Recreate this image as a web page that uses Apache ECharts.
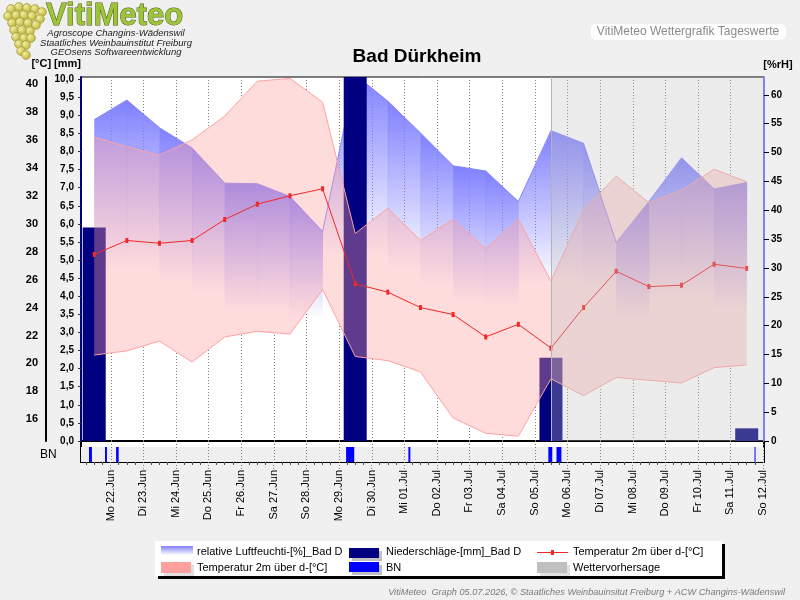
<!DOCTYPE html>
<html>
<head>
<meta charset="utf-8">
<title>Bad Dürkheim</title>
<script src="https://cdn.jsdelivr.net/npm/echarts@6.0.0/dist/echarts.min.js"></script>
<style>
  html, body { margin: 0; padding: 0; background: #f0f0f0; }
  #chart { width: 800px; height: 600px; }
</style>
</head>
<body>
<div id="chart"></div>
<script>
// x axis: days, 0 = Mo 22.Jun 00:00
const dayLabels = ['Mo 22.Jun', 'Di 23.Jun', 'Mi 24.Jun', 'Do 25.Jun', 'Fr 26.Jun', 'Sa 27.Jun', 'So 28.Jun',
  'Mo 29.Jun', 'Di 30.Jun', 'Mi 01.Jul', 'Do 02.Jul', 'Fr 03.Jul', 'Sa 04.Jul', 'So 05.Jul',
  'Mo 06.Jul', 'Di 07.Jul', 'Mi 08.Jul', 'Do 09.Jul', 'Fr 10.Jul', 'Sa 11.Jul', 'So 12.Jul'];

// daily values 21.06. - 11.07., drawn at noon
const humidity = [55.7, 59.1, 54.3, 50.8, 44.7, 44.6, 42.4, 36.3, 63.5, 58.9, 53.4, 47.7, 46.8, 41.5, 53.8, 51.6, 34.4, 41.5, 49.1, 43.7, 44.8];
const tempMax  = [36.2, 35.5, 34.9, 36.0, 37.7, 40.2, 40.4, 38.7, 29.3, 31.1, 28.8, 30.3, 28.2, 30.3, 25.9, 31.0, 33.4, 31.5, 32.4, 33.9, 33.0];
const tempMin  = [20.6, 20.9, 21.6, 20.1, 21.9, 22.3, 22.1, 25.3, 20.5, 20.2, 19.4, 16.1, 15.0, 14.8, 18.9, 17.7, 19.0, 18.8, 18.6, 19.7, 19.9];
const tempMean = [27.8, 28.8, 28.6, 28.8, 30.3, 31.4, 32.0, 32.5, 25.7, 25.1, 24.0, 23.5, 21.9, 22.8, 21.1, 24.0, 26.6, 25.5, 25.6, 27.1, 26.8];
const rain     = [5.9, 0, 0, 0, 0, 0, 0, 0, 10.4, 0, 0, 0, 0, 0, 2.3, 0, 0, 0, 0, 0, 0.35];

// leaf wetness (BN) periods [from, to] in days
const leafWet = [[-0.66, -0.57], [-0.17, -0.11], [0.17, 0.25], [7.22, 7.47], [9.13, 9.19],
  [13.42, 13.54], [13.67, 13.82], [19.74, 19.77]];
const forecastFrom = 13.5;

// axis ticks
const tempTicks = [16, 18, 20, 22, 24, 26, 28, 30, 32, 34, 36, 38, 40];
const rhTicks = [0, 5, 10, 15, 20, 25, 30, 35, 40, 45, 50, 55, 60];
const mmTicks = [];
for (let i = 0; i <= 20; i++) mmTicks.push(i / 2);
const dayTicks = dayLabels.map((_, i) => i);
const quarterTicks = [];
for (let k = -3; k <= 80; k++) if (k % 4 !== 0) quarterTicks.push(k / 4);

const X_MIN = -0.905, X_MAX = 20.03;
const FONT = '"Liberation Sans", Arial, sans-serif';

const noon = i => i - 0.5;
const pts = arr => arr.map((v, i) => [noon(i), v]);

const chart = echarts.init(document.getElementById('chart'));

function dayLine(params, api) {
  const cs = params.coordSys;
  const x = Math.round(api.coord([api.value(0), 0])[0]) + 0.5;
  return {
    type: 'line',
    shape: { x1: x, y1: cs.y, x2: x, y2: cs.y + cs.height },
    style: { stroke: '#808080', lineWidth: 1, lineDash: [1, 2] }
  };
}

function bandPolygon(fill) {
  return function (params, api) {
    const top = tempMax.map((v, i) => api.coord([noon(i), v]));
    const bottom = tempMin.map((v, i) => api.coord([noon(i), v])).reverse();
    return { type: 'polygon', shape: { points: top.concat(bottom) }, style: { fill: fill } };
  };
}

function txt(text, x, y, font, fill, align, extra) {
  return Object.assign({
    type: 'text', x: x, y: y, silent: true,
    style: { text: text, font: font, fill: fill || '#000', align: align || 'left', verticalAlign: 'middle',
      textAlign: align || 'left', textVerticalAlign: 'middle' }
  }, extra || {});
}

// grape cluster of the logo
const grapes = [[11, 9], [19, 7], [27, 8], [35, 9], [42, 12], [8, 16], [16, 15], [24, 15], [32, 16], [40, 19],
  [12, 23], [20, 22], [28, 23], [36, 25], [14, 30], [22, 30], [30, 31], [16, 37], [24, 38], [31, 38],
  [19, 44], [26, 45], [21, 51], [26, 55]];
const graphics = [];
grapes.forEach(g => graphics.push({
  type: 'circle', shape: { cx: g[0], cy: g[1], r: 4.4 }, silent: true,
  style: { fill: new echarts.graphic.RadialGradient(0.35, 0.35, 0.8, [
    { offset: 0, color: '#f2eea0' }, { offset: 1, color: '#b4aa2c' }]), stroke: '#9a9028', lineWidth: 0.6 }
}));
graphics.push(
  txt('VitiMeteo', 46, 16, 'bold 31px ' + FONT, '#9ec43c', 'left', {}),
  txt('Agroscope Changins-Wädenswil', 116, 33, 'italic 9.5px ' + FONT, '#222', 'center'),
  txt('Staatliches Weinbauinstitut Freiburg', 116, 43, 'italic 9.5px ' + FONT, '#222', 'center'),
  txt('GEOsens Softwareentwicklung', 116, 52, 'italic 9.5px ' + FONT, '#222', 'center'),
  { type: 'rect', shape: { x: 591, y: 24, width: 195, height: 16, r: 5 }, style: { fill: '#fff' }, silent: true },
  txt('VitiMeteo Wettergrafik Tageswerte', 688, 32, '12px ' + FONT, '#8a8a8a', 'center'),
  txt('Bad Dürkheim', 417, 57, 'bold 19px ' + FONT, '#000', 'center'),
  txt('[°C] [mm]', 81, 64, 'bold 11px ' + FONT, '#000', 'right'),
  txt('[%rH]', 778, 65, 'bold 11px ' + FONT, '#000', 'center'),
  txt('BN', 40, 455, '12px ' + FONT, '#000', 'left'),
  // legend
  { type: 'rect', shape: { x: 158, y: 544, width: 567, height: 35 }, style: { fill: '#000' }, silent: true },
  { type: 'rect', shape: { x: 155, y: 541, width: 567, height: 35 }, style: { fill: '#fff' }, silent: true },
  { type: 'rect', shape: { x: 161, y: 546, width: 32, height: 9 }, silent: true,
    style: { fill: new echarts.graphic.LinearGradient(0, 0, 0, 1, [{ offset: 0, color: '#8080ff' }, { offset: 1, color: '#ffffff' }]) } },
  txt('relative Luftfeuchti-[%]_Bad D', 197, 552, '11px ' + FONT),
  { type: 'rect', shape: { x: 352, y: 551, width: 30, height: 10 }, style: { fill: '#c0c0c0' }, silent: true },
  { type: 'rect', shape: { x: 349, y: 548, width: 30, height: 10 }, style: { fill: '#000080' }, silent: true },
  txt('Niederschläge-[mm]_Bad D', 386, 552, '11px ' + FONT),
  { type: 'line', shape: { x1: 537, y1: 552.5, x2: 568, y2: 552.5 }, style: { stroke: '#f02828', lineWidth: 1 }, silent: true },
  { type: 'rect', shape: { x: 551, y: 550, width: 3, height: 5 }, style: { fill: '#f02828' }, silent: true },
  txt('Temperatur 2m über d-[°C]', 573, 552, '11px ' + FONT),
  { type: 'rect', shape: { x: 164, y: 565, width: 30, height: 11 }, style: { fill: '#e0e0e0' }, silent: true },
  { type: 'rect', shape: { x: 161, y: 562, width: 30, height: 11 }, style: { fill: '#ffa0a0' }, silent: true },
  txt('Temperatur 2m über d-[°C]', 197, 568, '11px ' + FONT),
  { type: 'rect', shape: { x: 352, y: 565, width: 30, height: 10 }, style: { fill: '#c0c0c0' }, silent: true },
  { type: 'rect', shape: { x: 349, y: 562, width: 30, height: 10 }, style: { fill: '#0000ff' }, silent: true },
  txt('BN', 386, 568, '11px ' + FONT),
  { type: 'rect', shape: { x: 540, y: 565, width: 30, height: 11 }, style: { fill: '#e0e0e0' }, silent: true },
  { type: 'rect', shape: { x: 537, y: 562, width: 30, height: 11 }, style: { fill: '#c0c0c0' }, silent: true },
  txt('Wettervorhersage', 573, 568, '11px ' + FONT),
  txt('VitiMeteo  Graph 05.07.2026, © Staatliches Weinbauinsitut Freiburg + ACW Changins-Wädenswil', 785, 592,
    'italic 9.2px ' + FONT, '#7a7a7a', 'right')
);
graphics[grapes.length].style.stroke = '#4d5c16';
graphics[grapes.length].style.lineWidth = 1;

const option = {
  animation: false,
  backgroundColor: '#f0f0f0',
  textStyle: { fontFamily: FONT },
  grid: [
    { left: 81, right: 36, top: 77, height: 364, show: true, backgroundColor: '#fff',
      borderColor: '#000', borderWidth: 1, outerBoundsMode: 'none', containLabel: false },
    { left: 81, right: 36, top: 441, height: 21, show: true, backgroundColor: '#fff',
      borderColor: '#000', borderWidth: 2, outerBoundsMode: 'none', containLabel: false }
  ],
  xAxis: [
    { gridIndex: 0, type: 'value', min: X_MIN, max: X_MAX, show: false },
    { gridIndex: 1, type: 'value', min: X_MIN, max: X_MAX, position: 'bottom',
      axisLine: { show: false, onZero: false }, splitLine: { show: false },
      axisTick: { show: true, customValues: dayTicks, length: 7, lineStyle: { color: '#808080', type: [1, 2] } },
      axisLabel: { customValues: dayTicks, rotate: 90, margin: 8, fontSize: 11, color: '#000', fontFamily: FONT,
        formatter: v => dayLabels[Math.round(v)] } },
    { gridIndex: 1, type: 'value', min: X_MIN, max: X_MAX, position: 'bottom',
      axisLine: { show: false, onZero: false }, splitLine: { show: false }, axisLabel: { show: false },
      axisTick: { show: true, customValues: quarterTicks, length: 3, lineStyle: { color: '#555' } } }
  ],
  yAxis: [
    { gridIndex: 0, type: 'value', position: 'left', offset: 35, min: 14.45, max: 40.5, z: 10,
      axisLine: { show: true, onZero: false, lineStyle: { color: '#000', width: 2 } },
      axisTick: { show: false }, splitLine: { show: false },
      axisLabel: { customValues: tempTicks, margin: 8, fontSize: 11, fontWeight: 'bold', color: '#000' } },
    { gridIndex: 0, type: 'value', position: 'left', offset: 0, min: 0, max: 10.06, z: 10,
      axisLine: { show: true, onZero: false, lineStyle: { color: '#000080', width: 2 } },
      axisTick: { show: true, customValues: mmTicks, length: 3, lineStyle: { color: '#333' } },
      splitLine: { show: false },
      axisLabel: { customValues: mmTicks, margin: 7, fontSize: 10, fontWeight: 'bold', color: '#000',
        formatter: v => v.toFixed(1).replace('.', ',') } },
    { gridIndex: 0, type: 'value', position: 'right', min: 0, max: 63.1, z: 10,
      axisLine: { show: true, onZero: false, lineStyle: { color: '#8080ff', width: 2 } },
      axisTick: { show: true, customValues: rhTicks, length: 5, lineStyle: { color: '#000' } },
      splitLine: { show: false },
      axisLabel: { customValues: rhTicks, margin: 7, fontSize: 10, fontWeight: 'bold', color: '#000' } },
    { gridIndex: 1, type: 'value', min: 0, max: 1.4, interval: 1,
      axisLine: { show: false, onZero: false }, axisTick: { show: false }, axisLabel: { show: false }, splitLine: { show: false },
      splitArea: { show: true, areaStyle: { color: ['#efefef', 'rgba(0,0,0,0)'] } } }
  ],
  series: [
    // day grid lines
    { type: 'custom', xAxisIndex: 0, yAxisIndex: 1, z: 1, silent: true,
      data: dayTicks.map(v => [v]), renderItem: dayLine },
    { type: 'custom', xAxisIndex: 1, yAxisIndex: 3, z: 1, silent: true,
      data: dayTicks.map(v => [v]), renderItem: dayLine },
    // white under the temperature band
    { type: 'custom', xAxisIndex: 0, yAxisIndex: 0, z: 2, silent: true, clip: true,
      data: [[0]], renderItem: bandPolygon('#ffffff') },
    // humidity, one gradient panel per day
    { type: 'custom', xAxisIndex: 0, yAxisIndex: 2, z: 3, silent: true, clip: true,
      data: humidity.slice(1).map((_, i) => [i]),
      renderItem: (params, api) => {
        const i = api.value(0);
        const a = api.coord([noon(i), humidity[i]]);
        const b = api.coord([noon(i + 1), humidity[i + 1]]);
        const b0 = api.coord([noon(i + 1), 0]);
        const a0 = api.coord([noon(i), 0]);
        return { type: 'polygon', shape: { points: [a, [b[0] + 0.4, b[1]], [b0[0] + 0.4, b0[1]], a0] },
          style: { fill: new echarts.graphic.LinearGradient(0, 0, 0, 1, [
            { offset: 0, color: 'rgba(128,128,255,1)' }, { offset: 0.5, color: 'rgba(128,128,255,0)' }]) } };
      } },
    { type: 'line', xAxisIndex: 0, yAxisIndex: 2, z: 3, silent: true, data: pts(humidity),
      showSymbol: false, lineStyle: { color: '#8484ff', width: 1 } },
    // precipitation
    { type: 'bar', xAxisIndex: 0, yAxisIndex: 1, z: 4, data: pts(rain), barWidth: 23,
      itemStyle: { color: '#000080' } },
    // temperature min/max band
    { type: 'custom', xAxisIndex: 0, yAxisIndex: 0, z: 5, silent: true, clip: true,
      data: [[0]], renderItem: bandPolygon('rgba(255,160,160,0.37)') },
    { type: 'line', xAxisIndex: 0, yAxisIndex: 0, z: 6, silent: true, data: pts(tempMax),
      showSymbol: false, lineStyle: { color: '#ffa0a0', width: 1 } },
    { type: 'line', xAxisIndex: 0, yAxisIndex: 0, z: 6, silent: true, data: pts(tempMin),
      showSymbol: false, lineStyle: { color: '#ffa0a0', width: 1 } },
    // mean temperature
    { type: 'line', xAxisIndex: 0, yAxisIndex: 0, z: 7, data: pts(tempMean),
      symbol: 'rect', symbolSize: [3, 5], showAllSymbol: true,
      lineStyle: { color: '#f02828', width: 1 }, itemStyle: { color: '#f02828' } },
    // leaf wetness
    { type: 'custom', xAxisIndex: 1, yAxisIndex: 3, z: 4, silent: true, data: leafWet,
      encode: { x: [0, 1] },
      renderItem: (params, api) => {
        const p0 = api.coord([api.value(0), 1]);
        const p1 = api.coord([api.value(1), 0]);
        return { type: 'rect', shape: { x: p0[0], y: p0[1], width: Math.max(p1[0] - p0[0], 1), height: p1[1] - p0[1] },
          style: { fill: '#0000ff' } };
      } },
    // forecast
    { type: 'custom', xAxisIndex: 0, yAxisIndex: 1, z: 8, silent: true, data: [[forecastFrom, X_MAX]],
      encode: { x: [0, 1] },
      renderItem: (params, api) => {
        const cs = params.coordSys;
        const x0 = api.coord([api.value(0), 0])[0];
        const x1 = api.coord([api.value(1), 0])[0];
        const xl = Math.round(x0) + 0.5;
        return { type: 'group', children: [
          { type: 'rect', shape: { x: x0, y: cs.y + 0.5, width: x1 - x0, height: cs.height - 0.5 },
            style: { fill: 'rgba(192,192,192,0.3)' } },
          { type: 'line', shape: { x1: xl, y1: cs.y, x2: xl, y2: cs.y + cs.height },
            style: { stroke: '#b4b4b4', lineWidth: 1 } }
        ] };
      } }
  ],
  graphic: graphics
};
chart.setOption(option);
</script>
</body>
</html>
